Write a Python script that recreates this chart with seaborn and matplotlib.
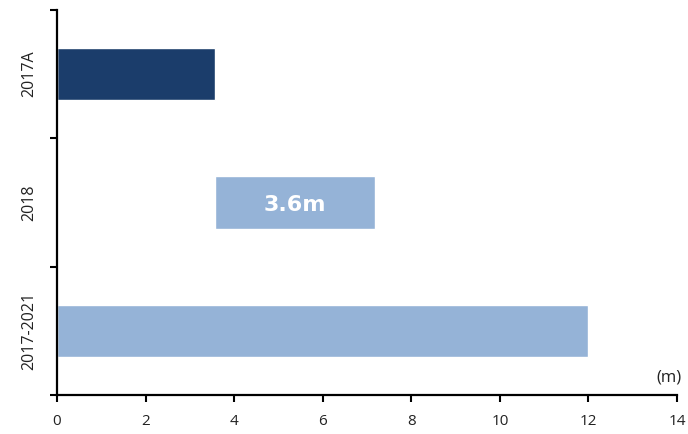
import matplotlib
matplotlib.use("Agg")
import matplotlib.pyplot as plt
import seaborn as sns
import pandas as pd

categories = ["2017A", "2018", "2017-2021"]
starts = [0.0, 3.57, 0.0]
values = [3.57, 3.6, 12.0]
bar_colors = ["#1b3d6b", "#95b3d7", "#95b3d7"]
bar_label = "3.6m"
xticks = [0, 2, 4, 6, 8, 10, 12, 14]

df = pd.DataFrame({"cat": categories, "start": starts, "value": values})
df["end"] = df["start"] + df["value"]

sns.set_theme(style="white")
plt.rcParams["font.family"] = ["Open Sans", "DejaVu Sans"]

fig = plt.figure(figsize=(6.88, 4.34), dpi=100)
ax = fig.add_axes([57/688, 1-395/434, (677-57)/688, (395-10)/434])

sns.barplot(data=df, x="end", y="cat", hue="cat", palette=bar_colors,
            order=categories, hue_order=categories, width=0.41,
            legend=False, ax=ax, saturation=1, orient="h")
sns.barplot(data=df, x="start", y="cat", color="white", order=categories,
            width=0.43, ax=ax, saturation=1, orient="h")

ax.set_xlim(0, 14)
ax.set_ylim(2.5, -0.5)
ax.set_xticks(xticks)
ax.set_xticklabels([str(t) for t in xticks], fontsize=11, color="#222222")
ax.set_yticks([-0.5, 0.5, 1.5, 2.5])
ax.set_yticklabels([])
ax.set_yticks([0, 1, 2], minor=True)
ax.set_yticklabels(categories, minor=True, rotation=90, va="center",
                   fontsize=11.5, color="#222222")
ax.tick_params(axis="y", which="minor", left=True, length=0, pad=14)
ax.tick_params(axis="y", which="major", left=True, length=5, width=1.5,
               direction="out", color="black")
ax.tick_params(axis="x", bottom=True, length=5, width=1.5, direction="out",
               pad=9, color="black")
ax.set_xlabel("")
ax.set_ylabel("")

for s in ["top", "right"]:
    ax.spines[s].set_visible(False)
for s in ["left", "bottom"]:
    ax.spines[s].set_linewidth(1.6)
    ax.spines[s].set_color("black")

mid = df.loc[1, "start"] + df.loc[1, "value"] / 2
ax.text(mid, 1.02, bar_label, ha="center", va="center", color="white",
        fontsize=16, fontweight="bold", fontfamily="DejaVu Sans")
ax.text(14.1, 2.36, "(m)", ha="right", va="center", fontsize=12, color="#222222")

fig.savefig("out.png", dpi=100)
